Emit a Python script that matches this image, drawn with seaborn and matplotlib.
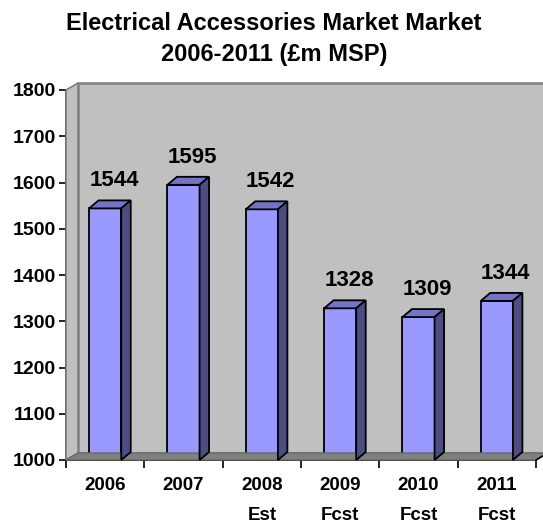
import matplotlib
matplotlib.use("Agg")
import matplotlib.pyplot as plt
import seaborn as sns
import numpy as np
from matplotlib.patches import Polygon

categories = ["2006", "2007", "2008\nEst", "2009\nFcst", "2010\nFcst", "2011\nFcst"]
values = [1544, 1595, 1542, 1328, 1309, 1344]
yticks = [1000, 1100, 1200, 1300, 1400, 1500, 1600, 1700, 1800]
title = "Electrical Accessories Market Market\n2006-2011 (£m MSP)"

sns.set_theme(style="white")
plt.rcParams["font.family"] = ["Liberation Sans", "DejaVu Sans"]
plt.rcParams["font.weight"] = "bold"
plt.rcParams["text.color"] = "black"
plt.rcParams["xtick.color"] = "black"
plt.rcParams["ytick.color"] = "black"
plt.rcParams["axes.labelcolor"] = "black"

W, H, DPI = 543, 528, 100
fig = plt.figure(figsize=(W / DPI, H / DPI), dpi=DPI)
fig.patch.set_facecolor("white")
L, R, B, T = 66, 536, 460, 90
ax = fig.add_axes([L / W, 1 - B / H, (R - L) / W, (B - T) / H])
ax.set_facecolor("none")

sns.barplot(x=categories, y=values, color="#9999FF", saturation=1, width=0.41,
            edgecolor="black", linewidth=1.3, ax=ax, zorder=3)
ax.set_ylim(1000, 1800)
ax.set_xlim(-0.5, len(categories) - 0.5)
ax.set_yticks(yticks)
ax.set_yticklabels([str(t) for t in yticks], fontsize=14, fontweight="bold", color="black")
ax.set_xticks(range(len(categories)))
ax.set_xticklabels(categories, fontsize=13.5, fontweight="bold", linespacing=1.95, color="black")
ax.set_xticks(np.arange(-0.5, len(categories)), minor=True)
ax.tick_params(axis="x", which="major", length=0, pad=12.5)
ax.tick_params(axis="x", which="minor", length=6, width=1.2, color="black", direction="out", bottom=True)
ax.tick_params(axis="y", length=5, width=1.2, color="black", direction="out", left=True, pad=2)
ax.set_xlabel("")
ax.set_ylabel("")
for s in ["top", "right"]:
    ax.spines[s].set_visible(False)
for s in ["left", "bottom"]:
    ax.spines[s].set_color("black")
    ax.spines[s].set_linewidth(1.3)
    ax.spines[s].set_zorder(5)

fig.canvas.draw()
ident = matplotlib.transforms.IdentityTransform()

# walls (display coords, origin bottom-left)
wdx, wdy = 12, 7
yb, yt = H - B, H - T
xl, xr = L, R
back = Polygon([(xl + wdx, yb + wdy), (xr + wdx, yb + wdy), (xr + wdx, yt + wdy), (xl + wdx, yt + wdy)],
               closed=True, facecolor="#C0C0C0", edgecolor="#808080", linewidth=1.8, transform=ident, zorder=0)
side = Polygon([(xl, yb), (xl + wdx, yb + wdy), (xl + wdx, yt + wdy), (xl, yt)],
               closed=True, facecolor="#C0C0C0", edgecolor="#808080", linewidth=1.2, transform=ident, zorder=0.5)
floor = Polygon([(xl, yb), (xr, yb), (xr + wdx, yb + wdy), (xl + wdx, yb + wdy)],
                closed=True, facecolor="#808080", edgecolor="#6a6a6a", linewidth=1.0, transform=ident, zorder=1)
for p in (back, side, floor):
    p.set_clip_on(False)
    fig.add_artist(p)
fig.add_artist(matplotlib.lines.Line2D([xr, xr + wdx], [yb, yb + wdy], color="black", lw=1.2,
                                       transform=ident, zorder=5))

# 3D bar faces
bdx, bdy = 9.5, 8
for patch, v in zip(ax.patches, values):
    x0 = patch.get_x()
    x1 = x0 + patch.get_width()
    (px0, py0), (px1, py1) = ax.transData.transform([(x0, 1000), (x1, v)])
    top = Polygon([(px0, py1), (px1, py1), (px1 + bdx, py1 + bdy), (px0 + bdx, py1 + bdy)],
                  closed=True, facecolor="#7373C8", edgecolor="black", linewidth=1.3, transform=ident, zorder=3)
    sidef = Polygon([(px1, py0), (px1 + bdx, py0 + bdy), (px1 + bdx, py1 + bdy), (px1, py1)],
                    closed=True, facecolor="#4D4D84", edgecolor="black", linewidth=1.3, transform=ident, zorder=3)
    for p in (top, sidef):
        p.set_clip_on(False)
        fig.add_artist(p)
    ax.annotate(str(v), xy=((x0 + x1) / 2, v), xytext=(9, 17), textcoords="offset pixels",
                ha="center", va="bottom", fontsize=16, fontweight="bold", color="black", zorder=6)

fig.text(0.505, 1 - 12 / H, title, ha="center", va="top", fontsize=17, fontweight="bold",
         linespacing=1.45, color="black")

fig.savefig("out.png", dpi=DPI, facecolor="white")
